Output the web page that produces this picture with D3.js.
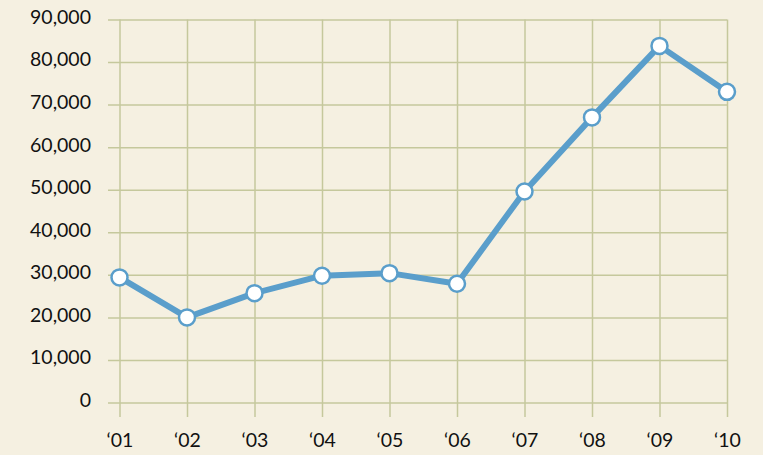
<html>
<head>
<meta charset="UTF-8"/>
<script src="https://d3js.org/d3.v7.min.js"></script>
<style>
body { margin:0; background:#f5f0e1; }
text { font-family: "Lato", "Open Sans", sans-serif; fill:#111111; }
</style>
</head>
<body>
<script>
// data
const years = ["‘01","‘02","‘03","‘04","‘05","‘06","‘07","‘08","‘09","‘10"];
const values = [29400, 20000, 25700, 29800, 30400, 27900, 49600, 67000, 83800, 73000];
const yTicks = [0,10000,20000,30000,40000,50000,60000,70000,80000,90000];

const width = 763;
const height = 455;

const svg = d3.select("body")
	.append("svg")
	.attr("width", width)
	.attr("height", height);

svg.append("rect")
	.attr("width", width)
	.attr("height", height)
	.attr("fill", "#f5f0e1");

const x = d3.scalePoint()
	.domain(years)
	.range([119.5, 727]);

const y = d3.scaleLinear()
	.domain([0, 90000])
	.range([402.5, 19.5]);

const gridColor = "#c5c89c";

// horizontal grid + y labels
const yAxis = svg.append("g")
	.attr("transform", "translate(108,0)")
	.call(d3.axisLeft(y).tickValues(yTicks).tickSize(-(727 - 108)).tickPadding(17)
		.tickFormat(d3.format(",")));
yAxis.select(".domain").remove();
yAxis.selectAll("line").attr("stroke", gridColor).attr("stroke-width", 1.5);
yAxis.selectAll("text").attr("font-size", 19.5).attr("dy", "0.2em");

// vertical grid + x labels
const xAxis = svg.append("g")
	.attr("transform", "translate(0,417)")
	.call(d3.axisBottom(x).tickSize(-(417 - 19.5)).tickPadding(16));
xAxis.select(".domain").remove();
xAxis.selectAll("line").attr("stroke", gridColor).attr("stroke-width", 1.5);
xAxis.selectAll("text").attr("font-size", 19.5);

const data = years.map((d, i) => ({year: d, value: values[i]}));

const line = d3.line()
	.x(d => x(d.year))
	.y(d => y(d.value));

svg.append("path")
	.datum(data)
	.attr("fill", "none")
	.attr("stroke", "#5a9ecb")
	.attr("stroke-width", 6)
	.attr("stroke-linejoin", "round")
	.attr("d", line);

svg.selectAll("circle.pt")
	.data(data)
	.enter()
	.append("circle")
	.attr("class", "pt")
	.attr("cx", d => x(d.year))
	.attr("cy", d => y(d.value))
	.attr("r", 8)
	.attr("fill", "#ffffff")
	.attr("stroke", "#5a9ecb")
	.attr("stroke-width", 2.5);
</script>
</body>
</html>
